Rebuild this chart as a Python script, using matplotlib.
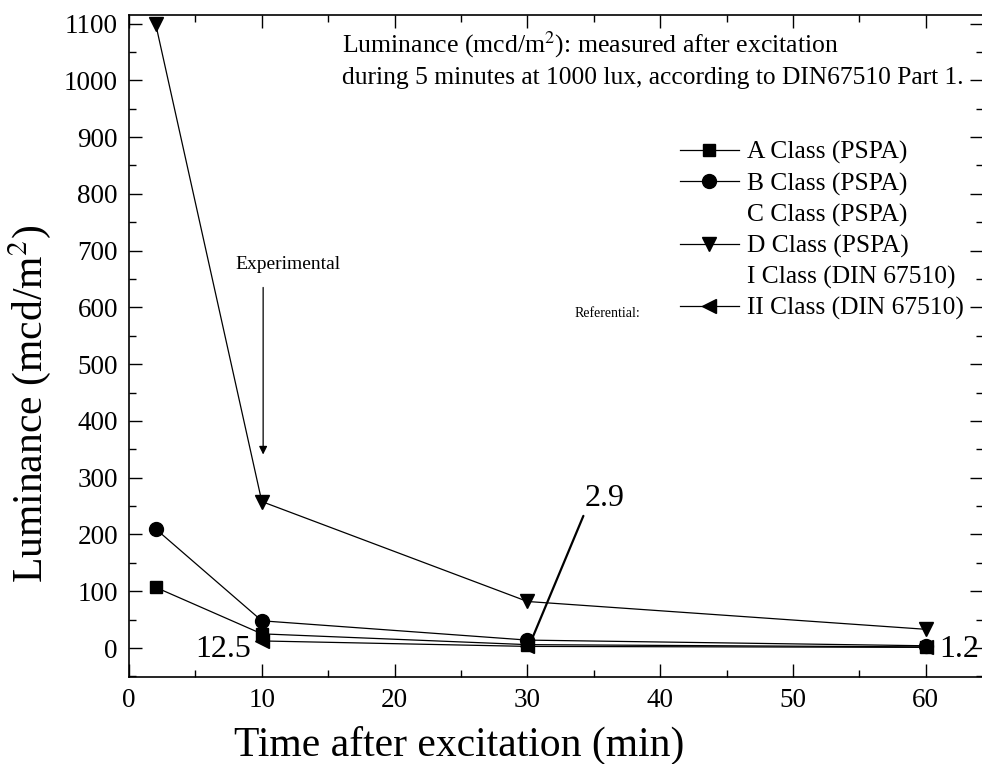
import matplotlib
matplotlib.use("Agg")
import matplotlib.pyplot as plt
from matplotlib.lines import Line2D
import numpy as np

plt.rcParams['font.family'] = ['Liberation Serif', 'DejaVu Serif']
plt.rcParams['mathtext.fontset'] = 'stix'

# ---- data ----
time_min = [2, 10, 30, 60]
a_class = [107, 25, 6, 2]
b_class = [210, 48, 14, 4]
d_class = [1100, 258, 82, 33]
time_ref = [10, 30, 60]
ii_class = [12.5, 2.9, 1.2]

legend_labels = ["A Class (PSPA)", "B Class (PSPA)", "C Class (PSPA)",
                 "D Class (PSPA)", "I Class (DIN 67510)", "II Class (DIN 67510)"]
x_ticks = [0, 10, 20, 30, 40, 50, 60]
y_ticks = list(range(0, 1101, 100))

W, H = 982, 764
fig = plt.figure(figsize=(W / 100, H / 100), dpi=100)
ax = fig.add_axes([129 / W, 1 - 677 / H, (W - 129) / W + 0.001, (677 - 15) / H])

lw = 0.9
ms = 9
ax.plot(time_min, a_class, color='k', lw=lw, marker='s', ms=ms, zorder=3)
ax.plot(time_min, b_class, color='k', lw=lw, marker='o', ms=ms + 1, zorder=3)
ax.plot(time_min, d_class, color='k', lw=lw, marker='v', ms=ms + 1, zorder=3)
ax.plot(time_ref, ii_class, color='k', lw=lw, marker='<', ms=ms + 1, zorder=3)

ax.set_xlim(0, 64.3)
ax.set_ylim(-51, 1115)
ax.set_xticks(x_ticks)
ax.set_yticks(y_ticks)
ax.set_xticks(np.arange(5, 65, 10), minor=True)
ax.set_yticks(np.arange(-50, 1115, 100), minor=True)
ax.tick_params(which='both', direction='in', top=True, right=True, width=1.0)
ax.tick_params(which='major', length=9.5, pad=8, labelsize=19.5)
ax.tick_params(which='minor', length=5)
for s in ax.spines.values():
    s.set_linewidth(1.2)

ax.set_xlabel("Time after excitation (min)", fontsize=30, va='center')
ax.set_ylabel(r"Luminance (mcd/m$^2$)", fontsize=30, va='center')
ax.xaxis.set_label_coords(0.387, (677 - 745) / 662)
ax.yaxis.set_label_coords((30 - 129) / 853, (677 - 404) / 662)

# top annotation
ax.text((342 - 129) / 853, (677 - 45) / 662,
        "Luminance (mcd/m$^2$): measured after excitation",
        transform=ax.transAxes, fontsize=18.5, ha='left', va='center')
ax.text((342 - 129) / 853, (677 - 78) / 662,
        "during 5 minutes at 1000 lux, according to DIN67510 Part 1.",
        transform=ax.transAxes, fontsize=18.4, ha='left', va='center')

# legend
handles = [
    Line2D([], [], color='k', lw=lw, marker='s', ms=ms),
    Line2D([], [], color='k', lw=lw, marker='o', ms=ms + 1),
    Line2D([], [], linestyle='none'),
    Line2D([], [], color='k', lw=lw, marker='v', ms=ms + 1),
    Line2D([], [], linestyle='none'),
    Line2D([], [], color='k', lw=lw, marker='<', ms=ms + 1),
]
leg = ax.legend(handles, legend_labels, loc='upper left',
                bbox_to_anchor=(680 / W, 1 - 141 / H), bbox_transform=fig.transFigure,
                frameon=False, fontsize=18.4, handlelength=2.3, handletextpad=0.32,
                labelspacing=0.31, borderpad=0, borderaxespad=0)

ax.text(38.5, 590, "Referential:", fontsize=10, ha='right', va='center')

# experimental arrow
ax.text(12.0, 675, "Experimental", fontsize=14, ha='center', va='center')
ax.annotate("", xy=(10.1, 336), xytext=(10.1, 640),
            arrowprops=dict(arrowstyle='-|>', color='k', lw=0.9, mutation_scale=12))

# value annotations
ax.text(9.2, -2, "12.5", fontsize=23, ha='right', va='center')
ax.annotate("2.9", xy=(30.2, 8), xytext=(34.3, 250), fontsize=23, ha='left', va='baseline',
            arrowprops=dict(arrowstyle='-', color='k', lw=1.6, shrinkA=0, shrinkB=0,
                            relpos=(0, 0)))
ax.text(61.0, -3, "1.2", fontsize=23, ha='left', va='center', clip_on=False)

fig.savefig("out.png", dpi=100)
